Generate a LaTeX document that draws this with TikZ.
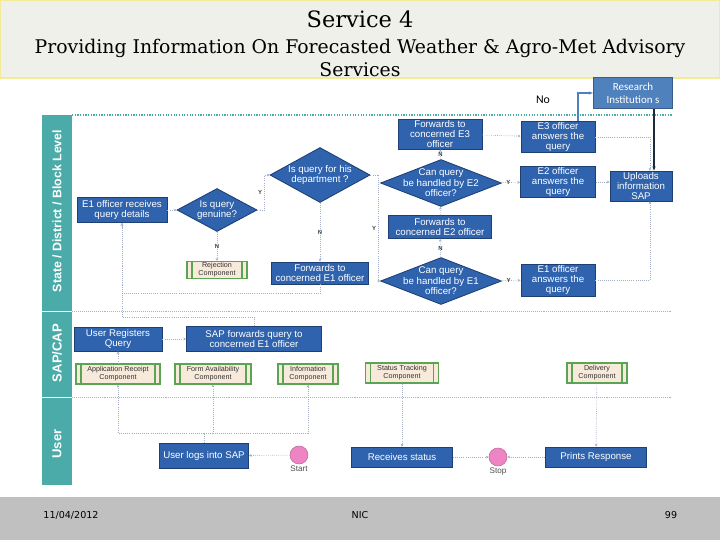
\documentclass[tikz,border=0pt]{standalone}
\usepackage{fontspec}
\setmainfont{Liberation Sans}
\newfontfamily\titlefont{DejaVu Serif}
\newfontfamily\notefont{Carlito}
\newfontfamily\footfont{DejaVu Sans}
\usepackage{tikz}
\usetikzlibrary{arrows.meta,positioning,shapes.geometric,calc}
\definecolor{svblue}{HTML}{2F63AE}
\definecolor{svedge}{HTML}{1E3F74}
\definecolor{svres}{HTML}{4F81BD}
\definecolor{svresedge}{HTML}{385D8A}
\definecolor{svteal}{HTML}{4AABA8}
\definecolor{svgreen}{HTML}{5AA553}
\definecolor{svpeach}{HTML}{F8EADB}
\definecolor{svpink}{HTML}{EE84C2}
\definecolor{svline}{HTML}{A4AEC4}
\definecolor{svband}{HTML}{F0F0EA}
\definecolor{svbandedge}{HTML}{F3EC96}
\definecolor{svfoot}{HTML}{C0C0C0}
\definecolor{svink}{HTML}{1C2A3A}
\tikzset{
  sz/.style 2 args={minimum width=#1*0.025cm,minimum height=#2*0.025cm},
  proc/.style={draw=svedge,fill=svblue,line width=0.6pt,text=white,
               font=\fontsize{6.9}{7.1}\selectfont,align=center,inner sep=0.5pt},
  decide/.style={diamond,draw=svedge,fill=svblue,line width=0.6pt,inner sep=0pt},
  dlab/.style={text=white,font=\fontsize{6.9}{7.4}\selectfont,align=center,inner sep=0pt},
  comp/.style={draw=svgreen,fill=svpeach,line width=0.9pt,text=black!80,
               font=\fontsize{5.1}{5.6}\selectfont,align=center,inner sep=0pt,
               path picture={\draw[svgreen,line width=0.9pt]
                 ([xshift=3.5pt]path picture bounding box.south west) --
                 ([xshift=3.5pt]path picture bounding box.north west)
                 ([xshift=-3.5pt]path picture bounding box.south east) --
                 ([xshift=-3.5pt]path picture bounding box.north east);}},
  term/.style={circle,draw=svpink!80!black,fill=svpink,minimum size=0.45cm,inner sep=0pt},
  termlab/.style={font=\fontsize{5.8}{6}\selectfont,text=black!70,inner sep=1pt},
  resbox/.style={draw=svresedge,fill=svres,line width=0.8pt,text=white,
                 font=\notefont\fontsize{7.8}{9}\selectfont,align=center,inner sep=1pt},
  lanelab/.style={rotate=90,text=white,font=\bfseries\fontsize{9.3}{10}\selectfont},
  flow/.style={-{Stealth[length=2pt,width=2pt]},draw=svline,densely dotted,line width=0.5pt},
  flowline/.style={draw=svline,densely dotted,line width=0.5pt},
  resup/.style={-{Stealth[length=3pt]},draw=svres,line width=1pt},
  resdown/.style={-{Stealth[length=3pt]},draw=svink,line width=1.2pt},
  elab/.style={font=\bfseries\fontsize{4.2}{4.2}\selectfont,text=black!75,inner sep=1.5pt},
}

\begin{document}
\begin{tikzpicture}[x=0.025cm,y=-0.025cm]
  \useasboundingbox (0,0) rectangle (720,540);

  % ================= title band =================
  \draw[fill=svband,draw=svbandedge,line width=1pt] (0.5,0.5) rectangle (719.5,78);
  \node[font=\titlefont\fontsize{16}{18}\selectfont] (ttl) at (360,19) {Service 4};
  \node[font=\titlefont\fontsize{13.4}{17}\selectfont,align=center] (sub) at (360,58)
    {Providing Information On Forecasted Weather \& Agro-Met Advisory\\Services};

  % ================= lanes =================
  \fill[svteal] (42,115) rectangle (72,485);
  \draw[white,line width=0.6pt] (42,311) -- (72,311) (42,397) -- (72,397);
  \draw[svteal,densely dotted,line width=0.9pt] (72,115) -- (672,115);
  \draw[black!30,densely dotted] (72,311) -- (672,311);
  \draw[black!30,densely dotted] (72,397) -- (672,397);
  \node[lanelab,font=\bfseries\fontsize{8.8}{10}\selectfont] (lst) at (57,211) {State / District / Block Level};
  \node[lanelab] (lsap) at (57,353) {SAP/CAP};
  \node[lanelab] (lusr) at (57,444) {User};

  % ================= state / district / block level =================
  \node[proc,sz={84}{30}] (fwe3) at (440,134) {Forwards to\\concerned E3\\officer};
  \node[proc,sz={74}{30}] (ans3) at (558,137) {E3 officer\\answers the\\query};
  \node[decide,sz={121}{47},label={[dlab]center:Can query\\be handled by E2\\officer?}] (e2q) at (441,183) {};
  \node[proc,sz={75}{30}] (ans2) at (558,182) {E2 officer\\answers the\\query};
  \node[proc,sz={62}{30}] (upl) at (641,186) {Uploads\\information\\SAP};
  \node[decide,sz={100}{55},label={[dlab]center:Is query for his\\department ?}] (dept) at (320,175) {};
  \node[decide,sz={80}{43},label={[dlab]center:Is query\\genuine?}] (genu) at (217,210) {};
  \node[proc,sz={90}{25}] (e1rec) at (122,210) {E1 officer receives\\query details};
  \node[comp,sz={60}{17}] (rej) at (217,270) {Rejection\\Component};
  \node[proc,sz={103}{23}] (fwe2) at (440,227) {Forwards to\\concerned E2 officer};
  \node[proc,sz={97}{22}] (fwe1) at (320,273) {Forwards to\\concerned E1 officer};
  \node[decide,sz={121}{47},label={[dlab]center:Can query\\be handled by E1\\officer?}] (e1q) at (441,281) {};
  \node[proc,sz={74}{32}] (ans1) at (558,280) {E1 officer\\answers the\\query};

  \node[font=\notefont\fontsize{8.4}{9}\selectfont] (nolab) at (543,100) {No};
  \node[resbox,sz={79}{31}] (res) at (633,93) {Research\\Institution s};

  % ================= SAP / CAP =================
  \node[proc,sz={88}{24}] (ureg) at (118,339) {User Registers\\Query};
  \node[proc,sz={135}{25}] (sapfw) at (254,339) {SAP forwards query to\\concerned E1 officer};
  \node[comp,sz={84}{20}] (apprc) at (118,374) {Application Receipt\\Component};
  \node[comp,sz={76}{20}] (formav) at (213,374) {Form Availability\\Component};
  \node[comp,sz={60}{20}] (infoc) at (308,374) {Information\\Component};
  \node[comp,sz={73}{20}] (stat) at (402,373) {Status Tracking\\Component};
  \node[comp,sz={60}{20}] (deliv) at (597,373) {Delivery\\Component};

  % ================= user =================
  \node[proc,sz={89}{25}] (login) at (204,456) {User logs into SAP};
  \node[term,label={[termlab]below:Start}] (start) at (299,455) {};
  \node[proc,sz={101}{20}] (recv) at (402,457) {Receives status};
  \node[term,label={[termlab]below:Stop}] (stop) at (498,457) {};
  \node[proc,sz={101}{20}] (prnt) at (596,457) {Prints Response};
  \coordinate (ujn) at (204,433);

  % connectors
  \draw[flow] (start) -- (login);
  \draw[flowline] (login.north) -- (ujn);
  \draw[flow] (ujn) -| (apprc.south);
  \draw[flow] (ujn) -| (formav.south);
  \draw[flow] (ujn) -| (infoc.south);
  \draw[flow] (apprc) -- (ureg);
  \draw[flow] (ureg) -- (sapfw);
  \draw[flow] (sapfw.north) -- ++(0,-9) -| (e1rec.south);
  \draw[flow] (fwe1.south) -- ++(0,9) -| (e1rec.south);
  \draw[flow] (e1rec) -- (genu);
  \draw[flow] (genu) -- node[elab,pos=0.5]{N} (rej);
  \draw[flow] (genu.east) -- ++(7,0) |- node[elab,pos=0.25,left]{Y} (dept.west);
  \draw[flow] (dept) -- node[elab,pos=0.5]{N} (fwe1);
  \draw[flow] (dept.east) -- ++(8,0) |- node[elab,pos=0.25,left]{Y} (e1q.west);
  \draw[flow] (e1q) -- node[elab,pos=0.4]{Y} (ans1);
  \draw[flow] (e1q) -- node[elab,pos=0.5]{N} (fwe2);
  \draw[flow] (fwe2) -- (e2q);
  \draw[flow] (e2q) -- node[elab,pos=0.5]{N} (fwe3);
  \draw[flow] (e2q) -- node[elab,pos=0.4]{Y} (ans2);
  \draw[flow] (fwe3) -- (ans3);
  \draw[flow] (ans3.east) -| ([xshift=0.225cm]upl.north);
  \draw[flow] (ans2.east) -- (ans2.east -| upl.west);
  \draw[flow] (ans1.east) -| ([xshift=0.225cm]upl.south);
  \draw[flow] (stat) -- (recv);
  \draw[flow] (deliv) -- (prnt);
  \draw[flow] (recv) -- (stop);
  \draw[flow] (prnt) -- (stop);
  \draw[resup] ([xshift=0.5cm]ans3.north) |- (res.west);
  \draw[resdown] ([xshift=0.525cm]res.south) -- ([xshift=0.525cm]res.south |- upl.north);

  % ================= footer =================
  \fill[svfoot] (0,497) rectangle (720,540);
  \node[font=\footfont\fontsize{6.8}{8}\selectfont] (fdate) at (71,515) {11/04/2012};
  \node[font=\footfont\fontsize{6.8}{8}\selectfont] (forg) at (360,515) {NIC};
  \node[font=\footfont\fontsize{6.8}{8}\selectfont] (fpage) at (671,515) {99};
\end{tikzpicture}
\end{document}
